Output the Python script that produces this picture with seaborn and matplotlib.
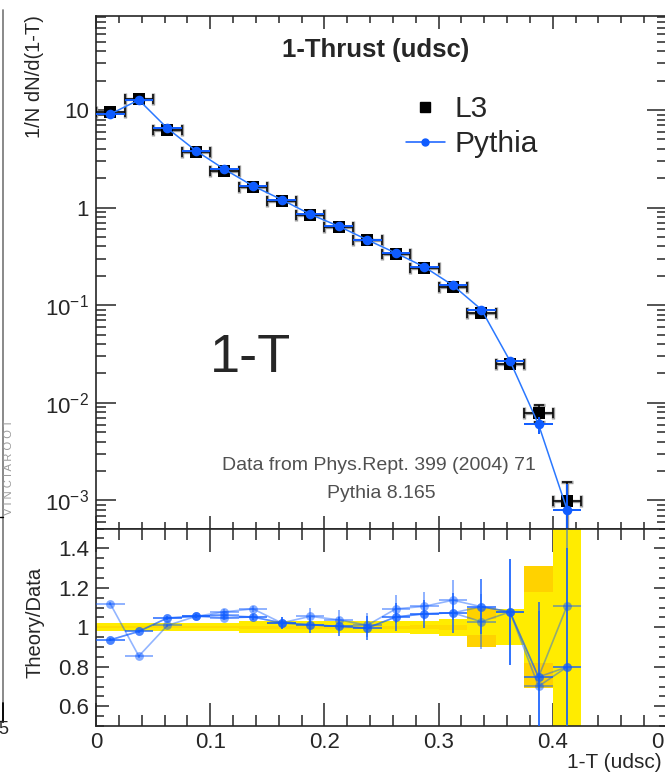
import numpy as np
import pandas as pd
import matplotlib
matplotlib.use("Agg")
import matplotlib.pyplot as plt
import seaborn as sns
from matplotlib.lines import Line2D
from matplotlib.ticker import FixedLocator, LogLocator, NullFormatter, MultipleLocator

# ---------------- data ----------------
bin_centers = [0.0125, 0.0375, 0.0625, 0.0875, 0.1125, 0.1375, 0.1625, 0.1875, 0.2125,
               0.2375, 0.2625, 0.2875, 0.3125, 0.3375, 0.3625, 0.3875, 0.4125]
bin_half = 0.0125

l3_values = [9.6, 13.0, 6.2, 3.68, 2.37, 1.61, 1.17, 0.838, 0.636, 0.47, 0.333, 0.239,
             0.154, 0.0841, 0.0252, 0.00793, 0.000984]
l3_errors = [0.10, 0.13, 0.06, 0.04, 0.025, 0.017, 0.013, 0.01, 0.008, 0.006, 0.005, 0.004,
             0.003, 0.002, 0.0008, 0.0015, 0.00056]

pythia_values = [9.1, 12.7, 6.5, 3.83, 2.47, 1.67, 1.21, 0.857, 0.646, 0.468, 0.343, 0.247,
                 0.160, 0.0903, 0.0269, 0.00601, 0.000803]
pythia_errors = [0.02, 0.03, 0.02, 0.01, 0.008, 0.006, 0.005, 0.004, 0.003, 0.003, 0.002, 0.002,
                 0.0015, 0.001, 0.0005, 0.0012, 0.00068]

ratio_a = [1.119, 0.854, 1.009, 1.055, 1.078, 1.093, 1.022, 1.055, 1.038, 1.010, 1.093, 1.106,
           1.137, 1.104, 1.078, 0.748, 1.109]
ratio_b = [0.936, 0.979, 1.047, 1.055, 1.060, 1.052, 1.022, 1.013, 1.004, 0.996, 1.052, 1.068,
           1.073, 1.104, 1.078, 0.748, 0.799]
ratio_c = [0.936, 0.979, 1.047, 1.055, 1.047, 1.052, 1.022, 1.013, 1.004, 0.996, 1.052, 1.068,
           1.073, 1.028, 1.078, 0.701, 0.799]
ratio_err = [0.008, 0.008, 0.008, 0.01, 0.012, 0.015, 0.03, 0.04, 0.05, 0.06, 0.07, 0.07,
             0.10, 0.14, 0.27, 0.38, 0.60]

band_yellow = [0.02, 0.02, 0.02, 0.02, 0.02, 0.03, 0.03, 0.03, 0.03, 0.03, 0.03, 0.033,
               0.043, 0.04, 0.09, 0.18, 0.60]
band_gold = [0.006, 0.006, 0.006, 0.006, 0.006, 0.008, 0.008, 0.008, 0.008, 0.008, 0.008, 0.01,
             0.012, 0.10, 0.05, 0.31, 0.50]

main_ytick_vals = [1e-3, 1e-2, 1e-1, 1, 10]
main_ytick_labels = ["$10^{-3}$", "$10^{-2}$", "$10^{-1}$", "1", "10"]
ratio_ytick_vals = [0.6, 0.8, 1.0, 1.2, 1.4]
ratio_ytick_labels = ["0.6", "0.8", "1", "1.2", "1.4"]
xtick_vals = [0.0, 0.1, 0.2, 0.3, 0.4, 0.5]
xtick_labels = ["0", "0.1", "0.2", "0.3", "0.4", "0.5"]

# ---------------- style ----------------
sns.set_style("ticks")
plt.rcParams["font.family"] = ["Liberation Sans", "DejaVu Sans"]
plt.rcParams["mathtext.fontset"] = "custom"
plt.rcParams["mathtext.rm"] = "Liberation Sans"
plt.rcParams["mathtext.it"] = "Liberation Sans:italic"
plt.rcParams["mathtext.bf"] = "Liberation Sans:bold"

W, H = 665, 774
fig = plt.figure(figsize=(W / 100, H / 100), dpi=100)
fig.patch.set_facecolor("white")

top_main, bot_main, bot_ratio = 16, 528.5, 726
left, right = 96, 667
ax = fig.add_axes([left / W, 1 - bot_main / H, (right - left) / W, (bot_main - top_main) / H])
axr = fig.add_axes([left / W, 1 - bot_ratio / H, (right - left) / W, (bot_ratio - bot_main) / H])

BLUE = "#0f5cff"
df = pd.DataFrame({"x": bin_centers, "l3": l3_values, "l3err": l3_errors,
                   "py": pythia_values, "pyerr": pythia_errors})

# ---------------- main panel ----------------
ax.set_yscale("log")
ax.errorbar(df["x"], df["l3"], xerr=bin_half, yerr=df["l3err"], fmt="none",
            ecolor="#9a9a9a", elinewidth=2.4, capsize=4.0, capthick=2.4, zorder=2)
ax.errorbar(df["x"], df["l3"], xerr=bin_half, yerr=df["l3err"], fmt="none",
            ecolor="black", elinewidth=1.1, capsize=3.6, capthick=1.1, zorder=3)
sns.scatterplot(data=df, x="x", y="l3", marker="s", s=85, color="black",
                edgecolor="black", linewidth=0, ax=ax, zorder=4, legend=False)
ax.errorbar(df["x"], df["py"], xerr=bin_half, yerr=df["pyerr"], fmt="none",
            ecolor=BLUE, elinewidth=1.4, capsize=0, zorder=5)
sns.lineplot(data=df, x="x", y="py", color="#2a78ff", linewidth=1.1, ax=ax, zorder=5,
             legend=False)
sns.scatterplot(data=df, x="x", y="py", marker="o", s=48, color=BLUE, linewidth=0,
                ax=ax, zorder=6, legend=False)

ax.set_xlim(0, 0.5)
ax.set_ylim(5.16e-4, 92)
ax.set_xlabel("")
ax.set_ylabel("")
ax.yaxis.set_major_locator(FixedLocator(main_ytick_vals))
ax.set_yticklabels(main_ytick_labels)
ax.yaxis.set_minor_locator(LogLocator(base=10, subs=np.arange(2, 10), numticks=20))
ax.yaxis.set_minor_formatter(NullFormatter())
ax.xaxis.set_major_locator(FixedLocator(xtick_vals))
ax.xaxis.set_minor_locator(MultipleLocator(0.02))
ax.tick_params(axis="x", which="both", labelbottom=False, direction="in", top=True,
               bottom=True, width=1.1)
ax.tick_params(axis="x", which="major", length=9.5)
ax.tick_params(axis="x", which="minor", length=5)
ax.tick_params(axis="y", which="both", direction="in", left=True, right=True, width=1.1,
               labelsize=16, pad=5)
ax.tick_params(axis="y", which="major", length=14.5)
ax.tick_params(axis="y", which="minor", length=7.5)
for s in ax.spines.values():
    s.set_linewidth(1.2)

# legend
h_l3 = Line2D([], [], marker="s", color="black", linestyle="none", markersize=7.5)
h_py = Line2D([], [], marker="o", color=BLUE, markerfacecolor=BLUE, linestyle="-",
              linewidth=1.1, markersize=5)
leg = ax.legend([h_l3, h_py], ["L3", "Pythia"], loc="upper left",
                bbox_to_anchor=(406 / W, 1 - 95 / H), bbox_transform=fig.transFigure,
                frameon=False, fontsize=21.5, handlelength=1.3, handletextpad=0.33,
                labelspacing=0.25, borderaxespad=0, borderpad=0)

fig.text(376 / W, 1 - 50 / H, "1-Thrust (udsc)", ha="center", va="center",
         fontsize=18.5, fontweight="bold")
fig.text(250 / W, 1 - 358 / H, "1-T", ha="center", va="center", fontsize=39)
fig.text(379 / W, 1 - 466 / H, "Data from Phys.Rept. 399 (2004) 71", ha="center",
         va="center", fontsize=14, color="#505050")
fig.text(381 / W, 1 - 494 / H, "Pythia 8.165", ha="center", va="center", fontsize=14,
         color="#505050")
fig.text(35 / W, 1 - 15 / H, "1/N dN/d(1-T)", ha="center", va="top", rotation=90,
         fontsize=14.5)

# ---------------- ratio panel ----------------
axr.bar(bin_centers, [2 * h for h in band_gold], bottom=[1 - h for h in band_gold],
        width=2 * bin_half, color="#ffd200", linewidth=0, zorder=1)
axr.bar(bin_centers, [2 * h for h in band_yellow], bottom=[1 - h for h in band_yellow],
        width=2 * bin_half, color="#ffec00", linewidth=0, zorder=1.5)
axr.bar(bin_centers, [2 * h for h in band_gold[:13]] + [0] * 4,
        bottom=[1 - h for h in band_gold[:13]] + [1] * 4,
        width=2 * bin_half, color="#ffdc00", linewidth=0, zorder=1.6)

rdf = pd.DataFrame({"x": bin_centers, "a": ratio_a, "b": ratio_b, "c": ratio_c,
                    "err": ratio_err})
for col in ["a", "b", "c"]:
    axr.errorbar(rdf["x"], rdf[col], xerr=bin_half, yerr=rdf["err"], fmt="none",
                 ecolor=BLUE, alpha=0.5, elinewidth=1.3, capsize=0, zorder=3)
    sns.lineplot(data=rdf, x="x", y=col, color=BLUE, alpha=0.45, linewidth=1.2,
                 ax=axr, zorder=3, legend=False)
    sns.scatterplot(data=rdf, x="x", y=col, marker="o", s=40, color=BLUE, alpha=0.5,
                    linewidth=0, ax=axr, zorder=4, legend=False)

axr.set_xlim(0, 0.5)
axr.set_ylim(0.5, 1.5)
axr.set_xlabel("")
axr.set_ylabel("")
axr.yaxis.set_major_locator(FixedLocator(ratio_ytick_vals))
axr.set_yticklabels(ratio_ytick_labels)
axr.yaxis.set_minor_locator(MultipleLocator(0.05))
axr.xaxis.set_major_locator(FixedLocator(xtick_vals))
axr.set_xticklabels(xtick_labels)
axr.xaxis.set_minor_locator(MultipleLocator(0.02))
axr.tick_params(axis="x", which="both", direction="in", top=True, bottom=True, width=1.1,
                labelsize=16, pad=4)
axr.tick_params(axis="x", which="major", length=16.5)
axr.tick_params(axis="x", which="minor", length=8)
axr.tick_params(axis="y", which="both", direction="in", left=True, right=True, width=1.1,
                labelsize=16, pad=5)
axr.tick_params(axis="y", which="major", length=9.5)
axr.tick_params(axis="y", which="minor", length=5.5)
for s in axr.spines.values():
    s.set_linewidth(1.2)

fig.text(35 / W, 1 - 622 / H, "Theory/Data", ha="center", va="center", rotation=90,
         fontsize=14.5)
fig.text(662 / W, 1 - 762 / H, "1-T (udsc)", ha="right", va="center", fontsize=15)

# ---------------- neighbouring-panel remnants at the left edge ----------------
fig.add_artist(Line2D([3 / W, 3 / W], [1 - 10 / H, 1 - 722 / H], color="#808080", lw=1.3))
fig.add_artist(Line2D([3 / W, 3 / W], [1 - 703 / H, 1 - 722 / H], color="black", lw=1.3))
fig.add_artist(Line2D([0, 3 / W], [1 - 517 / H, 1 - 517 / H], color="black", lw=1.0))
fig.add_artist(Line2D([0, 3 / W], [1 - 721 / H, 1 - 721 / H], color="black", lw=1.0))
fig.text(9 / W, 1 - 467 / H, "V I N C I A R O O T", ha="center", va="center",
         rotation=90, fontsize=8, color="#9a9a9a")
fig.text(9 / W, 1 - 729 / H, "0.5", ha="right", va="center", fontsize=13)

fig.savefig("out.png", dpi=100, facecolor="white")
